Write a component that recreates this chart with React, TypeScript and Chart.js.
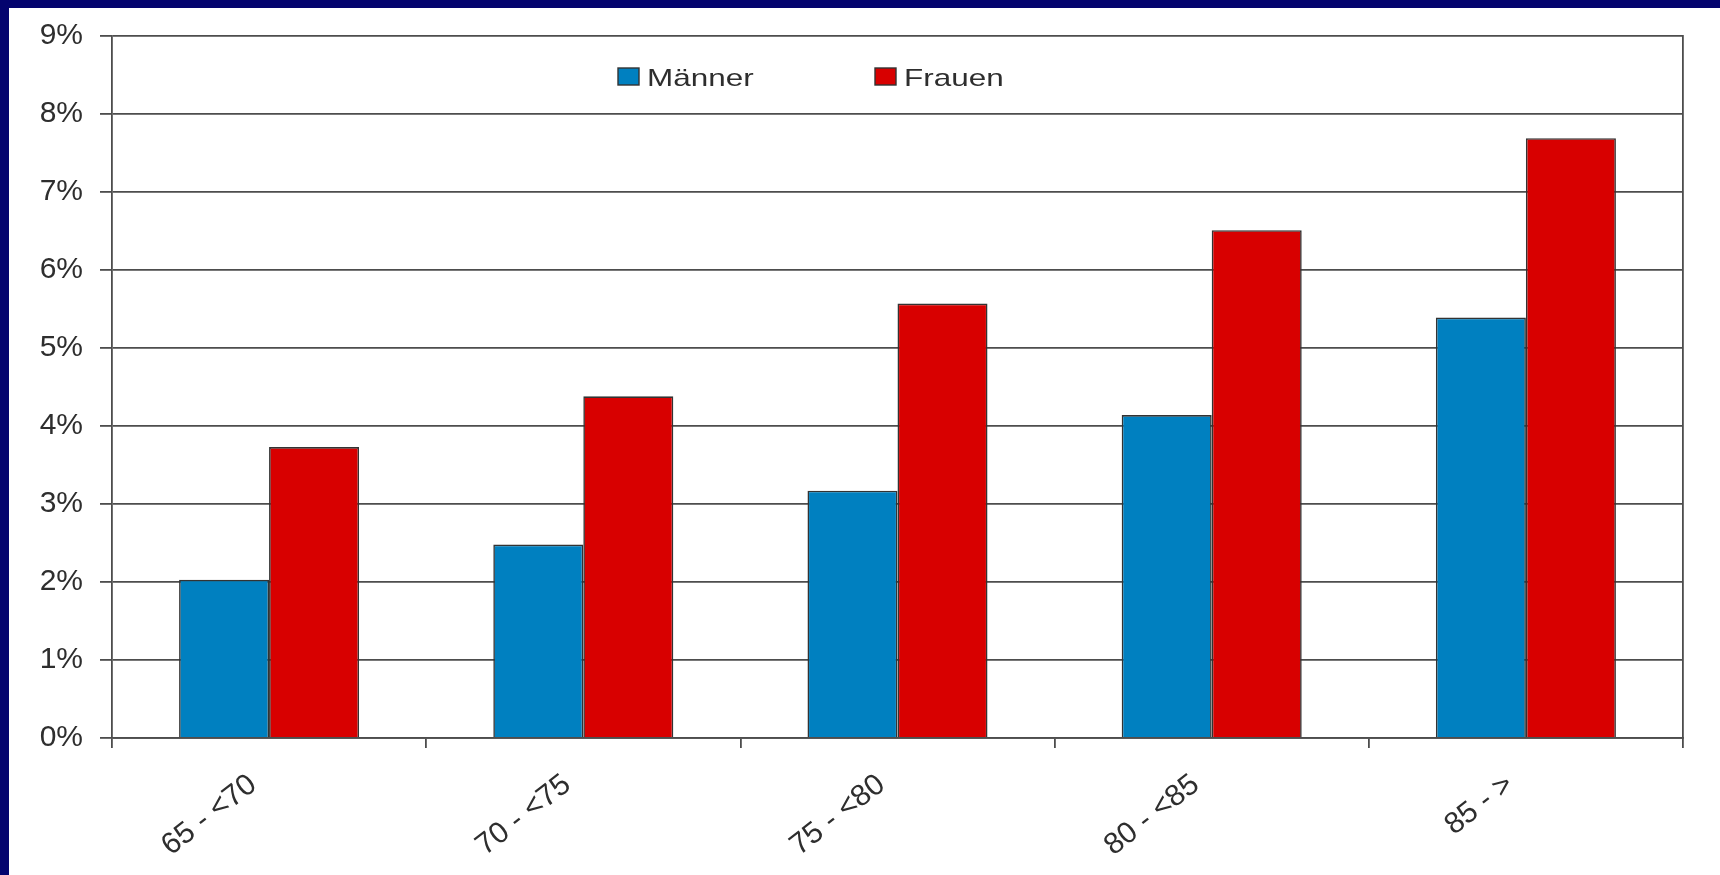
import React, { useEffect, useRef } from 'react';
import { Chart, registerables } from 'chart.js';

Chart.register(...registerables);

const categories = ['65 - <70', '70 - <75', '75 - <80', '80 - <85', '85 - >'];
const seriesNames = ['Männer', 'Frauen'];
const maennerValues = [2.03, 2.48, 3.17, 4.14, 5.39];
const frauenValues = [3.73, 4.38, 5.57, 6.51, 7.69];
const yMin = 0;
const yMax = 9;
const yStep = 1;

const FONT = '"Liberation Sans", Arial, sans-serif';
const LINE = '#4d4d4d';
const TEXT = '#2e2e2e';

const insideLegend = {
  id: 'insideLegend',
  afterDraw(chart: any) {
    const ctx = chart.ctx;
    const area = chart.chartArea;
    const offsets = [506, 763];
    ctx.save();
    ctx.font = `24px ${FONT}`;
    chart.data.datasets.forEach((ds: any, i: number) => {
      const bx = area.left + offsets[i];
      const by = area.top + 32;
      ctx.fillStyle = ds.backgroundColor;
      ctx.fillRect(bx, by, 21, 17);
      ctx.strokeStyle = '#333';
      ctx.lineWidth = 1.4;
      ctx.strokeRect(bx, by, 21, 17);
      ctx.save();
      ctx.translate(bx + 29, by + 17.6);
      ctx.scale(1.31, 1);
      ctx.fillStyle = TEXT;
      ctx.textBaseline = 'alphabetic';
      ctx.textAlign = 'left';
      ctx.fillText(ds.label, 0, 0);
      ctx.restore();
    });
    ctx.restore();
  },
};

export default function App() {
  const ref = useRef<HTMLCanvasElement>(null);

  useEffect(() => {
    if (!ref.current) return;
    const chart = new Chart(ref.current, {
      type: 'bar',
      data: {
        labels: categories,
        datasets: [
          {
            label: seriesNames[0],
            data: maennerValues,
            backgroundColor: '#0080C0',
            borderColor: '#333333',
            borderWidth: 1.6,
            categoryPercentage: 0.573,
            barPercentage: 1,
          },
          {
            label: seriesNames[1],
            data: frauenValues,
            backgroundColor: '#D80000',
            borderColor: '#333333',
            borderWidth: 1.6,
            categoryPercentage: 0.573,
            barPercentage: 1,
          },
        ],
      },
      options: {
        animation: false,
        responsive: true,
        maintainAspectRatio: false,
        layout: { padding: { top: 28, right: 37, left: 0, bottom: 0 } },
        plugins: {
          legend: { display: false },
          tooltip: { enabled: false },
          title: { display: false },
        },
        scales: {
          x: {
            offset: true,
            grid: {
              display: true,
              drawOnChartArea: false,
              drawTicks: true,
              tickLength: 10,
              color: LINE,
              lineWidth: 1.8,
              offset: true,
            },
            border: { display: true, color: LINE, width: 1.8 },
            ticks: {
              autoSkip: false,
              minRotation: 38,
              maxRotation: 38,
              padding: 19,
              labelOffset: -16,
              color: TEXT,
              font: { family: FONT, size: 30 },
            },
            afterFit: (s: any) => {
              s.height = 137;
              s.paddingLeft = 0;
              s.paddingRight = 0;
            },
          },
          y: {
            min: yMin,
            max: yMax,
            ticks: {
              stepSize: yStep,
              padding: 17,
              color: TEXT,
              font: { family: FONT, size: 30 },
              callback: (v: any) => `${v}%`,
            },
            grid: { color: LINE, lineWidth: 1.8, tickLength: 12, drawTicks: true },
            border: { display: true, color: LINE, width: 1.8 },
            afterFit: (s: any) => {
              s.width = 103;
              s.paddingTop = 0;
              s.paddingBottom = 0;
            },
          },
          yRight: {
            position: 'right',
            display: true,
            ticks: { display: false },
            grid: { display: false },
            border: { display: true, color: LINE, width: 1.8 },
            afterFit: (s: any) => {
              s.width = 0;
              s.paddingTop = 0;
              s.paddingBottom = 0;
            },
          },
        },
      },
      plugins: [insideLegend],
    });
    return () => chart.destroy();
  }, []);

  return (
    <div style={{ position: 'absolute', left: 0, top: 0, width: 1720, height: 875, background: '#04046e' }}>
      <div style={{ position: 'absolute', left: 9, top: 8, width: 1711, height: 867, background: '#ffffff' }}>
        <canvas ref={ref} />
      </div>
    </div>
  );
}
